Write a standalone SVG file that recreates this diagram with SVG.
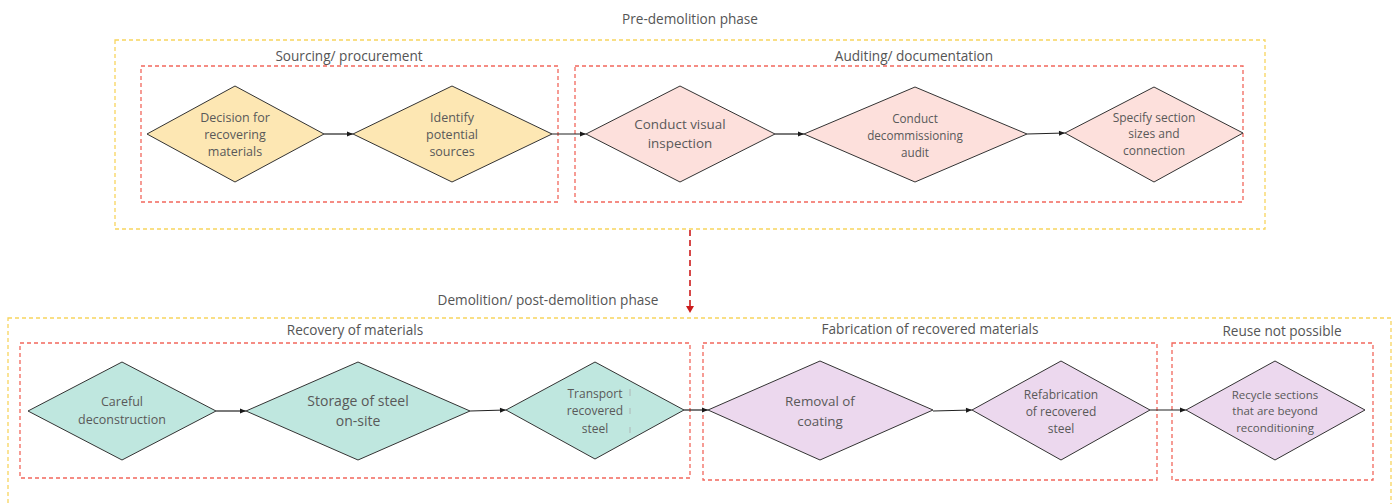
<svg xmlns="http://www.w3.org/2000/svg" width="1394" height="504" viewBox="0 0 1394 504">
<defs>
<marker id="ah" markerWidth="8" markerHeight="8" refX="7" refY="4" orient="auto" markerUnits="userSpaceOnUse"><path d="M1,1.5 L7,4 L1,6.5 Z" fill="#1a1a1a"/></marker>
</defs>
<style>
.phase{fill:none;stroke:#f8d55e;stroke-width:1.3;stroke-dasharray:4 3}
.grp{fill:none;stroke:#f2675c;stroke-width:1.3;stroke-dasharray:4 3}
.t{font-family:"Open Sans","Noto Sans",sans-serif;font-size:13.6px;fill:#555;text-anchor:middle}
.n{font-family:"Open Sans","Noto Sans",sans-serif;fill:#595959;text-anchor:middle}
.s115{font-size:11.5px}.s117{font-size:11.7px}.s12{font-size:12px}.s125{font-size:12.5px}.s135{font-size:13.4px}.s14{font-size:14px}
.d{stroke:#333;stroke-width:1}
.y{fill:#fde7b3}.p{fill:#fde0dc}.g{fill:#bfe7df}.v{fill:#ecd8ee}
.c{fill:none;stroke:#222;stroke-width:1.2;marker-end:url(#ah)}
</style>
<rect width="1394" height="504" fill="#fff"/>
<g id="phase-pre">
<rect class="phase" x="115" y="40" width="1150" height="189"/>
<text class="t" x="690" y="24">Pre-demolition phase</text>
</g>
<g id="group-sourcing">
<rect class="grp" x="141" y="66" width="417" height="136"/>
<text class="t" x="349" y="61">Sourcing/ procurement</text>
</g>
<g id="group-auditing">
<rect class="grp" x="575" y="66" width="668" height="136"/>
<text class="t" x="914" y="61">Auditing/ documentation</text>
</g>
<g id="phase-post">
<rect class="phase" x="8" y="318" width="1383" height="190"/>
<text class="t" x="548" y="305">Demolition/ post-demolition phase</text>
</g>
<g id="group-recovery">
<rect class="grp" x="20" y="343" width="670" height="135"/>
<text class="t" x="355" y="335">Recovery of materials</text>
</g>
<g id="group-fabrication">
<rect class="grp" x="703" y="343" width="454" height="137"/>
<text class="t" x="930" y="334">Fabrication of recovered materials</text>
</g>
<g id="group-reuse">
<rect class="grp" x="1172" y="343" width="201" height="137"/>
<text class="t" x="1282" y="336">Reuse not possible</text>
</g>
<g id="n1"><polygon class="d y" points="147,134 235,86 324,134 235,182"/>
<text class="n s125" x="235" y="122">Decision for</text><text class="n s125" x="235" y="139">recovering</text><text class="n s125" x="235" y="156">materials</text></g>
<g id="n2"><polygon class="d y" points="353,134 452,86 552,134 452,182"/>
<text class="n s125" x="452" y="122">Identify</text><text class="n s125" x="452" y="139">potential</text><text class="n s125" x="452" y="156">sources</text></g>
<g id="n3"><polygon class="d p" points="586,134 680,86 775,134 680,182"/>
<text class="n s135" x="680" y="129">Conduct visual</text><text class="n s135" x="680" y="148">inspection</text></g>
<g id="n4"><polygon class="d p" points="804,134 915,87 1027,134 915,182"/>
<text class="n s117" x="915" y="123">Conduct</text><text class="n s117" x="915" y="140">decommissioning</text><text class="n s117" x="915" y="157">audit</text></g>
<g id="n5"><polygon class="d p" points="1065,133 1154,87 1243,133 1154,182"/>
<text class="n s12" x="1154" y="122">Specify section</text><text class="n s12" x="1154" y="138">sizes and</text><text class="n s12" x="1154" y="155">connection</text></g>
<g id="n6"><polygon class="d g" points="28,411 122,362 216,411 122,460"/>
<text class="n s125" x="122" y="406">Careful</text><text class="n s125" x="122" y="424">deconstruction</text></g>
<g id="n7"><polygon class="d g" points="246,411 358,362 470,411 358,460"/>
<text class="n s14" x="358" y="406">Storage of steel</text><text class="n s14" x="358" y="426">on-site</text></g>
<g id="n8"><polygon class="d g" points="506,410 595,362 684,410 595,459"/>
<text class="n s12" x="595" y="398">Transport</text><text class="n s12" x="595" y="415">recovered</text><text class="n s12" x="595" y="433">steel</text>
<path d="M630,389V396M630,408V414M630,427V433" stroke="#aaa" stroke-width="0.8"/></g>
<g id="n9"><polygon class="d v" points="708,410 820,361 933,410 820,460"/>
<text class="n s135" x="820" y="406">Removal of</text><text class="n s135" x="820" y="426">coating</text></g>
<g id="n10"><polygon class="d v" points="972,410 1061,361 1150,410 1061,460"/>
<text class="n s12" x="1061" y="399">Refabrication</text><text class="n s12" x="1061" y="416">of recovered</text><text class="n s12" x="1061" y="433">steel</text></g>
<g id="n11"><polygon class="d v" points="1186,410 1275,361 1365,410 1275,460"/>
<text class="n s115" x="1275" y="399">Recycle sections</text><text class="n s115" x="1275" y="415">that are beyond</text><text class="n s115" x="1275" y="432">reconditioning</text></g>
<g id="connectors">
<path class="c" d="M324,134H353"/>
<path class="c" d="M552,134H586"/>
<path class="c" d="M775,134H804"/>
<path class="c" d="M1027,134L1065,133"/>
<path class="c" d="M216,411H246"/>
<path class="c" d="M470,411L506,410"/>
<path class="c" d="M684,410H708"/>
<path class="c" d="M933,411L972,410"/>
<path class="c" d="M1150,410H1186"/>
<path d="M690,230V306" stroke="#cc1b1b" stroke-width="1.6" stroke-dasharray="6 4" fill="none"/>
<path d="M686,306L694,306L690,313Z" fill="#cc1b1b"/>
</g>
</svg>
